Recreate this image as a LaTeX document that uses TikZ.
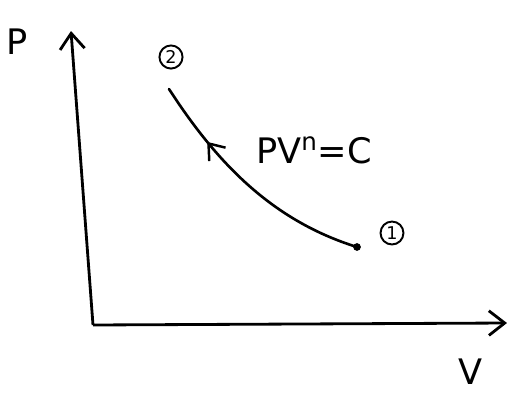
\documentclass[tikz,border=0pt]{standalone}
\usepackage{fontspec}
\setmainfont{DejaVu Sans}
\usetikzlibrary{arrows.meta,decorations.markings}
\begin{document}
\begin{tikzpicture}[x=0.02cm,y=-0.02cm,
  axis/.style={line width=1.6pt,-{Straight Barb[length=9pt,width=14pt,line width=1.6pt]}},
  curve/.style={line width=1.5pt,line cap=round,
    postaction={decorate},
    decoration={markings,mark=at position 0.74 with {\arrow{Straight Barb[length=8pt,width=12pt,line width=1.4pt]}}}},
  lbl/.style={font=\fontsize{20}{22}\selectfont},
  num/.style={circle,draw,line width=1.1pt,inner sep=1.2pt,minimum size=13pt,font=\fontsize{10}{11}\selectfont}]
\useasboundingbox (0,0) rectangle (512,393);
\coordinate (o) at (93,325);
\coordinate (ytop) at (71,31);
\coordinate (xend) at (507,323);
\coordinate (p1) at (357,247);
\coordinate (p2) at (169,89);
\draw[axis] (o) -- (ytop);
\draw[axis] (o) -- (xend);
\draw[curve] (p1) .. controls (270,220) and (215,160) .. (p2);
\fill (p1) circle (2.2pt);
\node[lbl] (pl) at (17,42) {P};
\node[lbl] (vl) at (471,372) {V};
\node[lbl,anchor=west] (eq) at (250,150) {PV\textsuperscript{n}=C};
\node[num] (n1) at (392,233) {1};
\node[num] (n2) at (171,57) {2};
\end{tikzpicture}
\end{document}
